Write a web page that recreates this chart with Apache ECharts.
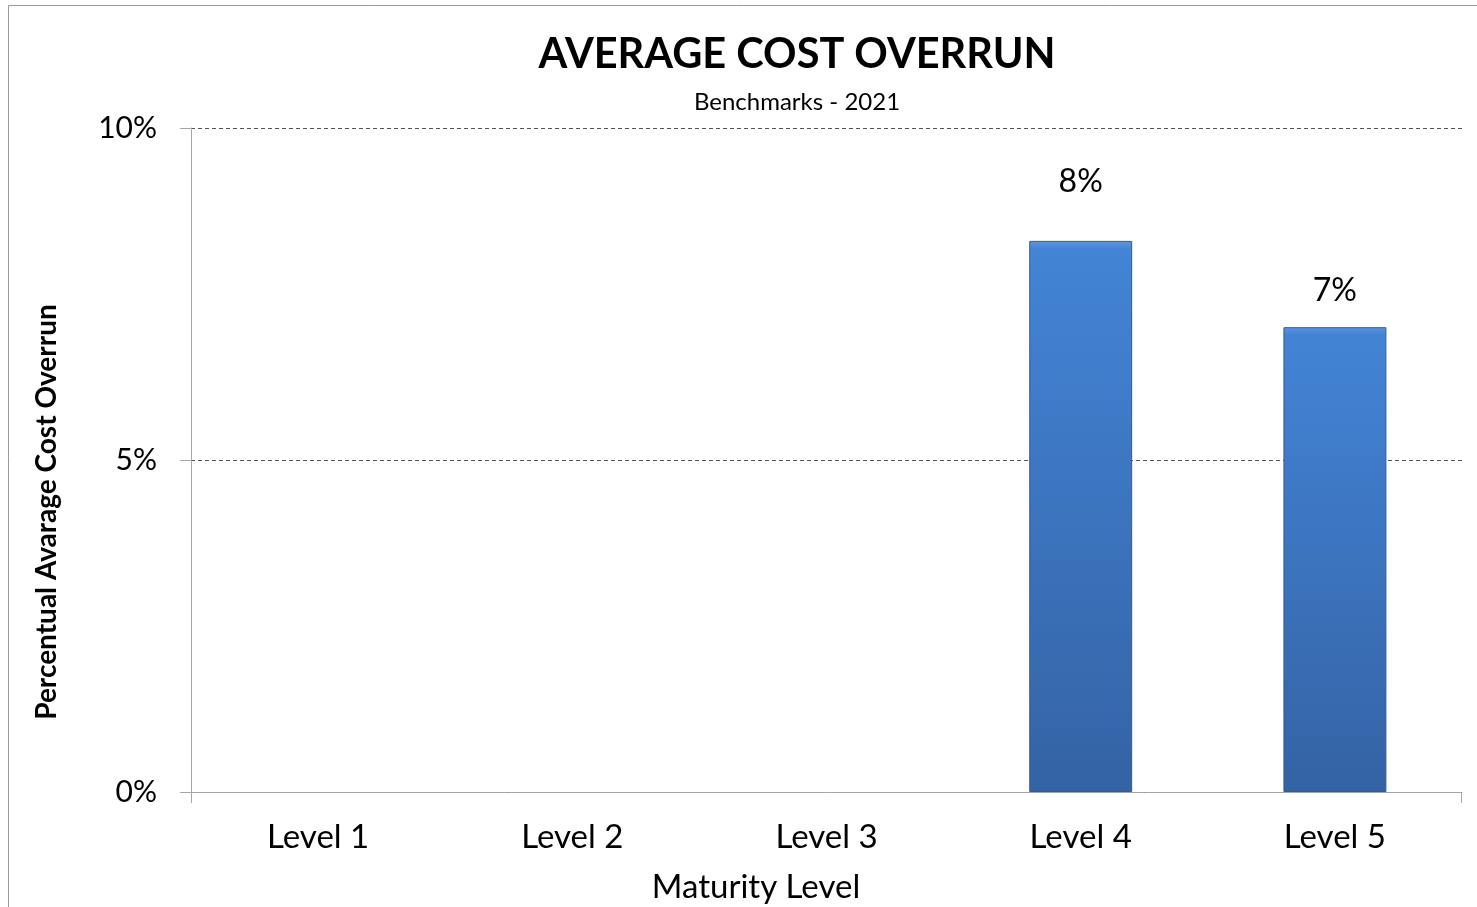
<!DOCTYPE html>
<html>
<head>
<meta charset="utf-8">
<title>Average Cost Overrun</title>
<script src="https://cdn.jsdelivr.net/npm/echarts@6/dist/echarts.min.js"></script>
<style>
  html, body { margin: 0; padding: 0; background: #fff; }
  #chart { width: 1477px; height: 907px; }
</style>
</head>
<body>
<div id="chart"></div>
<script>
// Maturity levels and their average cost overrun (fraction of budget)
const categories = ['Level 1', 'Level 2', 'Level 3', 'Level 4', 'Level 5'];
const overrun = [null, null, null, 0.083, 0.07];
const yTicks = [0, 0.05, 0.10];

const FONT = 'Lato, "Open Sans", sans-serif';
const GRID = { left: 191, right: 15, top: 128, bottom: 115 };
const W = 1477, H = 907;

const chart = echarts.init(document.getElementById('chart'), null, { renderer: 'canvas' });

const pct = v => Math.round(v * 100) + '%';

// label gaps above each bar, keyed by category
const labelGap = { 'Level 4': 43, 'Level 5': 21 };

const option = {
  backgroundColor: '#ffffff',
  animation: false,
  title: [
    {
      text: 'AVERAGE COST OVERRUN',
      left: 792, top: 29, textAlign: 'center',
      textStyle: { fontFamily: FONT, fontWeight: 'bold', fontSize: 41.5, color: '#000' }
    },
    {
      text: 'Benchmarks - 2021',
      left: 792, top: 85, textAlign: 'center',
      textStyle: { fontFamily: FONT, fontWeight: 'normal', fontSize: 24, color: '#000' }
    },
    {
      text: 'Maturity Level',
      left: 751, top: 866, textAlign: 'center',
      textStyle: { fontFamily: FONT, fontWeight: 'normal', fontSize: 33, color: '#000' }
    }
  ],
  grid: { left: GRID.left, right: GRID.right, top: GRID.top, bottom: GRID.bottom, containLabel: false },
  xAxis: {
    type: 'category',
    data: categories,
    boundaryGap: true,
    axisLine: { show: true, lineStyle: { color: '#a6a6a6', width: 1 } },
    axisTick: { show: false },
    axisLabel: { fontFamily: FONT, fontSize: 33, color: '#000', margin: 29 }
  },
  yAxis: {
    type: 'value',
    min: yTicks[0],
    max: yTicks[yTicks.length - 1],
    interval: yTicks[1] - yTicks[0],
    axisLine: { show: true, lineStyle: { color: '#a6a6a6', width: 1 } },
    axisTick: { show: true, length: 11, lineStyle: { color: '#a6a6a6' } },
    axisLabel: { fontFamily: FONT, fontSize: 30, color: '#000', margin: 34, formatter: pct },
    splitLine: { show: true, lineStyle: { color: '#555', type: [4, 3], width: 1 } }
  },
  series: [{
    type: 'bar',
    barWidth: '40.5%',
    data: overrun.map((v, i) => ({
      value: v,
      label: { distance: labelGap[categories[i]] || 20 }
    })),
    itemStyle: {
      color: new echarts.graphic.LinearGradient(0, 0, 0, 1, [
        { offset: 0, color: '#5a97e0' },
        { offset: 0.015, color: '#4384d6' },
        { offset: 1, color: '#3463a4' }
      ]),
      borderColor: '#2f5b96',
      borderWidth: 1
    },
    label: {
      show: true,
      position: 'top',
      fontFamily: FONT,
      fontSize: 32,
      color: '#000',
      formatter: p => p.value == null ? '' : pct(p.value)
    }
  }],
  graphic: [
    // outer frame of the chart area
    {
      type: 'rect', silent: true, z: 0,
      shape: { x: 8.5, y: 5.5, width: W + 20, height: H + 20 },
      style: { fill: null, stroke: '#9a9a9a', lineWidth: 1 }
    },
    // y-axis title
    {
      type: 'text', silent: true,
      x: 47, y: 512, rotation: Math.PI / 2,
      style: {
        text: 'Percentual Avarage Cost Overrun',
        font: 'bold 28px ' + FONT,
        fill: '#000',
        align: 'center', verticalAlign: 'middle'
      }
    },
    // end ticks of the category axis
    {
      type: 'line', silent: true,
      shape: { x1: GRID.left + 0.5, y1: H - GRID.bottom, x2: GRID.left + 0.5, y2: H - GRID.bottom + 11 },
      style: { stroke: '#a6a6a6', lineWidth: 1 }
    },
    {
      type: 'line', silent: true,
      shape: { x1: W - GRID.right - 0.5, y1: H - GRID.bottom, x2: W - GRID.right - 0.5, y2: H - GRID.bottom + 11 },
      style: { stroke: '#a6a6a6', lineWidth: 1 }
    }
  ]
};

chart.setOption(option);
</script>
</body>
</html>
